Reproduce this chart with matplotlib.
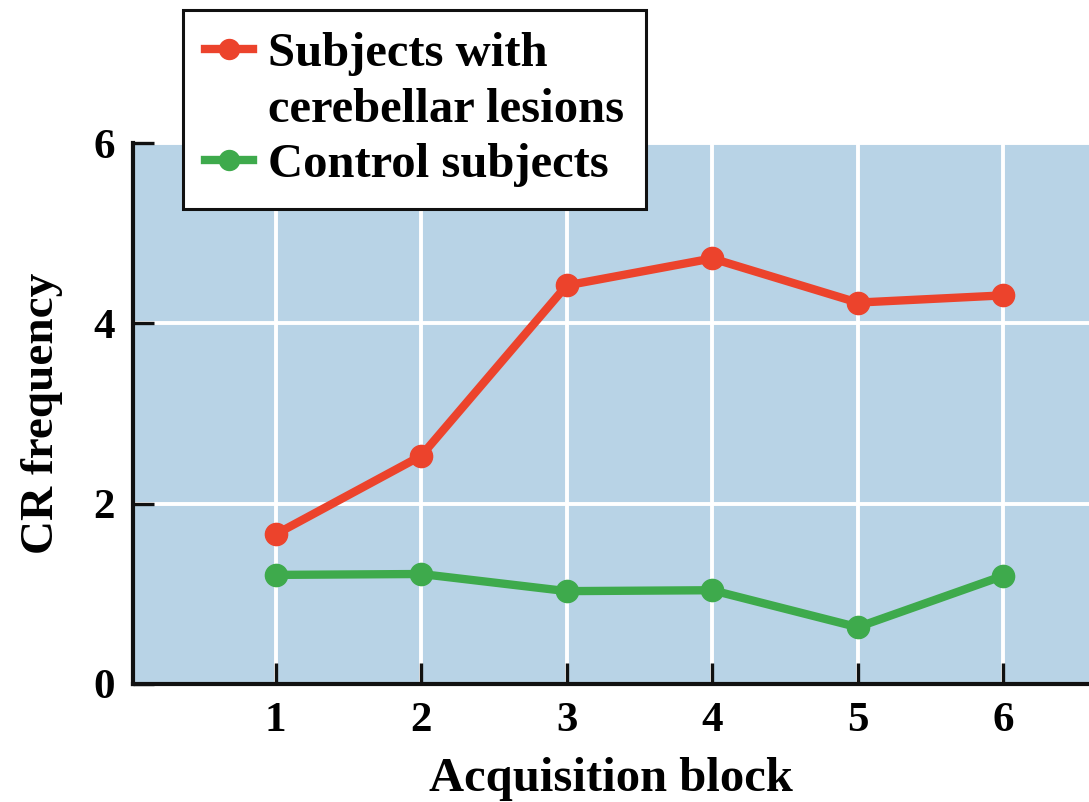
import matplotlib
matplotlib.use("Agg")
import matplotlib.pyplot as plt
from matplotlib.lines import Line2D

blocks = [1, 2, 3, 4, 5, 6]
lesion = [1.66, 2.53, 4.42, 4.72, 4.23, 4.31]
control = [1.21, 1.22, 1.03, 1.04, 0.63, 1.20]
xticks = [1, 2, 3, 4, 5, 6]
yticks = [0, 2, 4, 6]
labels = ["Subjects with\ncerebellar lesions", "Control subjects"]

RED = "#ec432c"
GREEN = "#3eaa4c"
BG = "#b8d3e6"

plt.rcParams['font.family'] = ['Liberation Serif', 'DejaVu Serif']
plt.rcParams['font.weight'] = 'bold'

fig = plt.figure(figsize=(10.89, 8.02), dpi=100)
ax = fig.add_axes([133/1089, 1-684/802, 1-133/1089, (684-143)/802])
ax.set_facecolor(BG)

l1, = ax.plot(blocks, lesion, color=RED, lw=6, marker='o', ms=16, zorder=3, label=labels[0])
l2, = ax.plot(blocks, control, color=GREEN, lw=6, marker='o', ms=16, zorder=3, label=labels[1])

ax.set_xlim(0.02, 6.59)
ax.set_ylim(0, 6)
ax.set_xticks(xticks)
ax.set_yticks(yticks)
ax.grid(True, color='white', lw=2.8, zorder=1)
ax.set_axisbelow(True)
for s in ['top', 'right']:
    ax.spines[s].set_visible(False)
for s in ['left', 'bottom']:
    ax.spines[s].set_linewidth(3)
    ax.spines[s].set_color('#111111')
    ax.spines[s].set_zorder(4)
ax.tick_params(direction='in', length=15, width=2.4, color='#111111', labelsize=31, pad=13)

ax.set_xlabel("Acquisition block", fontsize=35, fontweight='bold', labelpad=12)
ax.set_ylabel("CR frequency", fontsize=34, fontweight='bold', labelpad=22)

# legend: first label split so the handle sits beside its first line
first, second = labels[0].split("\n")
blank = Line2D([], [], color='none')
leg = ax.legend([l1, blank, l2], [first, second, labels[1]],
                loc='upper left', bbox_to_anchor=(183/1089, 1-10/802), bbox_transform=fig.transFigure,
                borderaxespad=0, fontsize=35, frameon=True, fancybox=False, handlelength=1.0,
                handletextpad=0.3, borderpad=0.45, labelspacing=0.24, markerscale=0.9)
leg.get_frame().set_edgecolor('#111111')
leg.get_frame().set_linewidth(2.2)
leg.get_frame().set_alpha(1)
leg.set_zorder(10)

fig.savefig("out.png", dpi=100)
